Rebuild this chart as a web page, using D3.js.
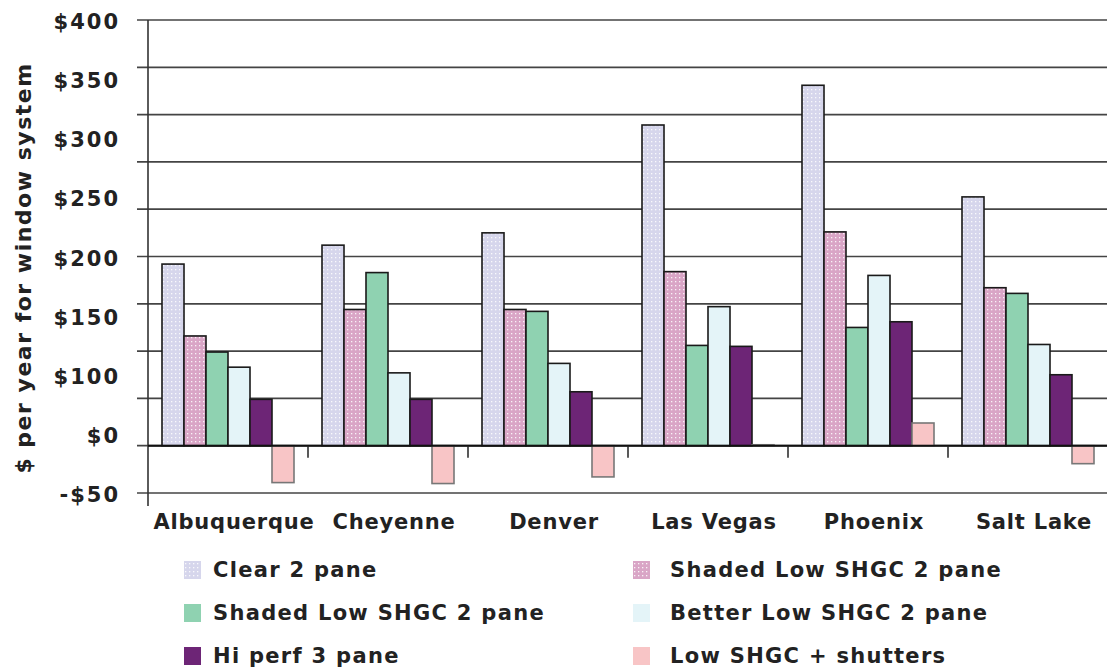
<!DOCTYPE html>
<html>
<head>
<meta charset="utf-8">
<script src="https://cdn.jsdelivr.net/npm/d3@7"></script>
<style>
  html, body { margin: 0; padding: 0; background: #fff; }
  svg { display: block; }
  text { font-family: "DejaVu Sans", Verdana, sans-serif; font-weight: bold; fill: #222; }
</style>
</head>
<body>
<svg id="chart" width="1107" height="667"></svg>
<script>
// Annual cost of each window system by city
const cities = ["Albuquerque", "Cheyenne", "Denver", "Las Vegas", "Phoenix", "Salt Lake"];
const seriesNames = [
  "Clear 2 pane",
  "Shaded Low SHGC 2 pane",
  "Shaded Low SHGC 2 pane",
  "Better Low SHGC 2 pane",
  "Hi perf 3 pane",
  "Low SHGC + shutters"
];
const clear2Pane      = [192, 212, 225, 339, 381, 263];
const shadedPink      = [116, 144, 144, 184, 226, 167];
const shadedGreen     = [ 99, 183, 142, 106, 125, 161];
const betterLowShgc   = [ 83,  77,  87, 147, 180, 107];
const hiPerf3Pane     = [ 49,  49,  57, 105, 131,  75];
const lowShgcShutters = [-39, -40, -33,   1,  24, -19];
const seriesValues = [clear2Pane, shadedPink, shadedGreen, betterLowShgc, hiPerf3Pane, lowShgcShutters];

const gridValues = d3.range(-50, 451, 50);
const tickLabels = ["$400", "$350", "$300", "$250", "$200", "$150", "$100", "$0", "-$50"];

// Fill styles per series
const baseColors = ["#d6d6ec", "#d9a5c6", "#8fd2b1", "#e4f4f8", "#6d2576", "#f8c5c6"];
const dotted = [true, true, false, false, false, false];
const strokes = ["#1a1a1a", "#1a1a1a", "#1a1a1a", "#1a1a1a", "#1a1a1a", "#777"];

const svg = d3.select("#chart");
const defs = svg.append("defs");
baseColors.forEach((c, i) => {
  if (!dotted[i]) return;
  const p = defs.append("pattern")
    .attr("id", "dots" + i)
    .attr("patternUnits", "userSpaceOnUse")
    .attr("width", 4).attr("height", 4);
  p.append("rect").attr("width", 4).attr("height", 4).attr("fill", c);
  p.append("rect").attr("x", 1).attr("y", 1).attr("width", 1.3).attr("height", 1.3)
    .attr("fill", "#fff").attr("opacity", 0.85);
});
const fillFor = i => dotted[i] ? `url(#dots${i})` : baseColors[i];

const plotLeft = 148, plotRight = 1108, plotTop = 20, plotBottom = 493;

const y = d3.scaleLinear().domain([-50, 450]).range([plotBottom, plotTop]);
const x = d3.scaleBand().domain(cities).range([plotLeft, plotRight])
  .paddingInner(0.175).paddingOuter(0.0875);
const xs = d3.scaleBand().domain(d3.range(seriesNames.length)).range([0, x.bandwidth()]);

// Horizontal gridlines and left ticks
svg.append("g").selectAll("line").data(gridValues).join("line")
  .attr("x1", plotLeft - 11).attr("x2", 1107)
  .attr("y1", d => y(d)).attr("y2", d => y(d))
  .attr("stroke", "#444").attr("stroke-width", 1.7);

// Y axis line
svg.append("line")
  .attr("x1", plotLeft).attr("x2", plotLeft)
  .attr("y1", y(450)).attr("y2", y(-50) + 13)
  .attr("stroke", "#333").attr("stroke-width", 1.6);

// Y tick labels spread evenly along the axis
const yLab = d3.scalePoint().domain(tickLabels).range([y(450) + 2, y(-50) + 2]);
svg.append("g").selectAll("text").data(tickLabels).join("text")
  .attr("x", 120).attr("y", d => yLab(d))
  .attr("text-anchor", "end").attr("dominant-baseline", "central")
  .style("font-size", "21px").style("letter-spacing", "2px")
  .text(d => d);

// Y axis title
svg.append("text")
  .attr("transform", `translate(23,${(62 + 474) / 2}) rotate(-90)`)
  .attr("text-anchor", "middle").attr("dominant-baseline", "central")
  .style("font-size", "22px").style("letter-spacing", "1.5px")
  .text("$ per year for window system");

// Bars
const groups = svg.append("g").selectAll("g").data(cities).join("g")
  .attr("transform", c => `translate(${x(c)},0)`);
groups.selectAll("rect")
  .data((c, ci) => seriesValues.map((vals, si) => ({ si, v: vals[ci] })))
  .join("rect")
  .attr("x", d => xs(d.si))
  .attr("width", xs.bandwidth())
  .attr("y", d => y(Math.max(0, d.v)))
  .attr("height", d => Math.abs(y(d.v) - y(0)))
  .attr("fill", d => fillFor(d.si))
  .attr("stroke", d => strokes[d.si]).attr("stroke-width", 1.6);

// Zero line
svg.append("line")
  .attr("x1", plotLeft).attr("x2", 1107)
  .attr("y1", y(0)).attr("y2", y(0))
  .attr("stroke", "#111").attr("stroke-width", 2);

// Category separators below the zero line
const step = x.step();
svg.append("g").selectAll("line").data(cities.slice(1)).join("line")
  .attr("x1", c => x(c) - step * x.paddingInner() / 2)
  .attr("x2", c => x(c) - step * x.paddingInner() / 2)
  .attr("y1", y(0)).attr("y2", y(0) + 12)
  .attr("stroke", "#222").attr("stroke-width", 1.5);

// Category labels
svg.append("g").selectAll("text").data(cities).join("text")
  .attr("x", c => x(c) + x.bandwidth() / 2 + 6)
  .attr("y", 522)
  .attr("text-anchor", "middle").attr("dominant-baseline", "central")
  .style("font-size", "21px").style("letter-spacing", "0.8px")
  .text(c => c);

// Legend in two columns
const legendCols = [184, 633];
const legendRows = [570, 613, 656];
const legend = svg.append("g").selectAll("g").data(seriesNames).join("g")
  .attr("transform", (d, i) => `translate(${legendCols[i % 2]},${legendRows[Math.floor(i / 2)]})`);
legend.append("rect")
  .attr("x", 0).attr("y", -9).attr("width", 17).attr("height", 18)
  .attr("fill", (d, i) => fillFor(i));
legend.append("text")
  .attr("x", (d, i) => i % 2 ? 37 : 29).attr("y", 0)
  .attr("dominant-baseline", "central")
  .style("font-size", "21px").style("letter-spacing", "1.3px")
  .text(d => d);
</script>
</body>
</html>
